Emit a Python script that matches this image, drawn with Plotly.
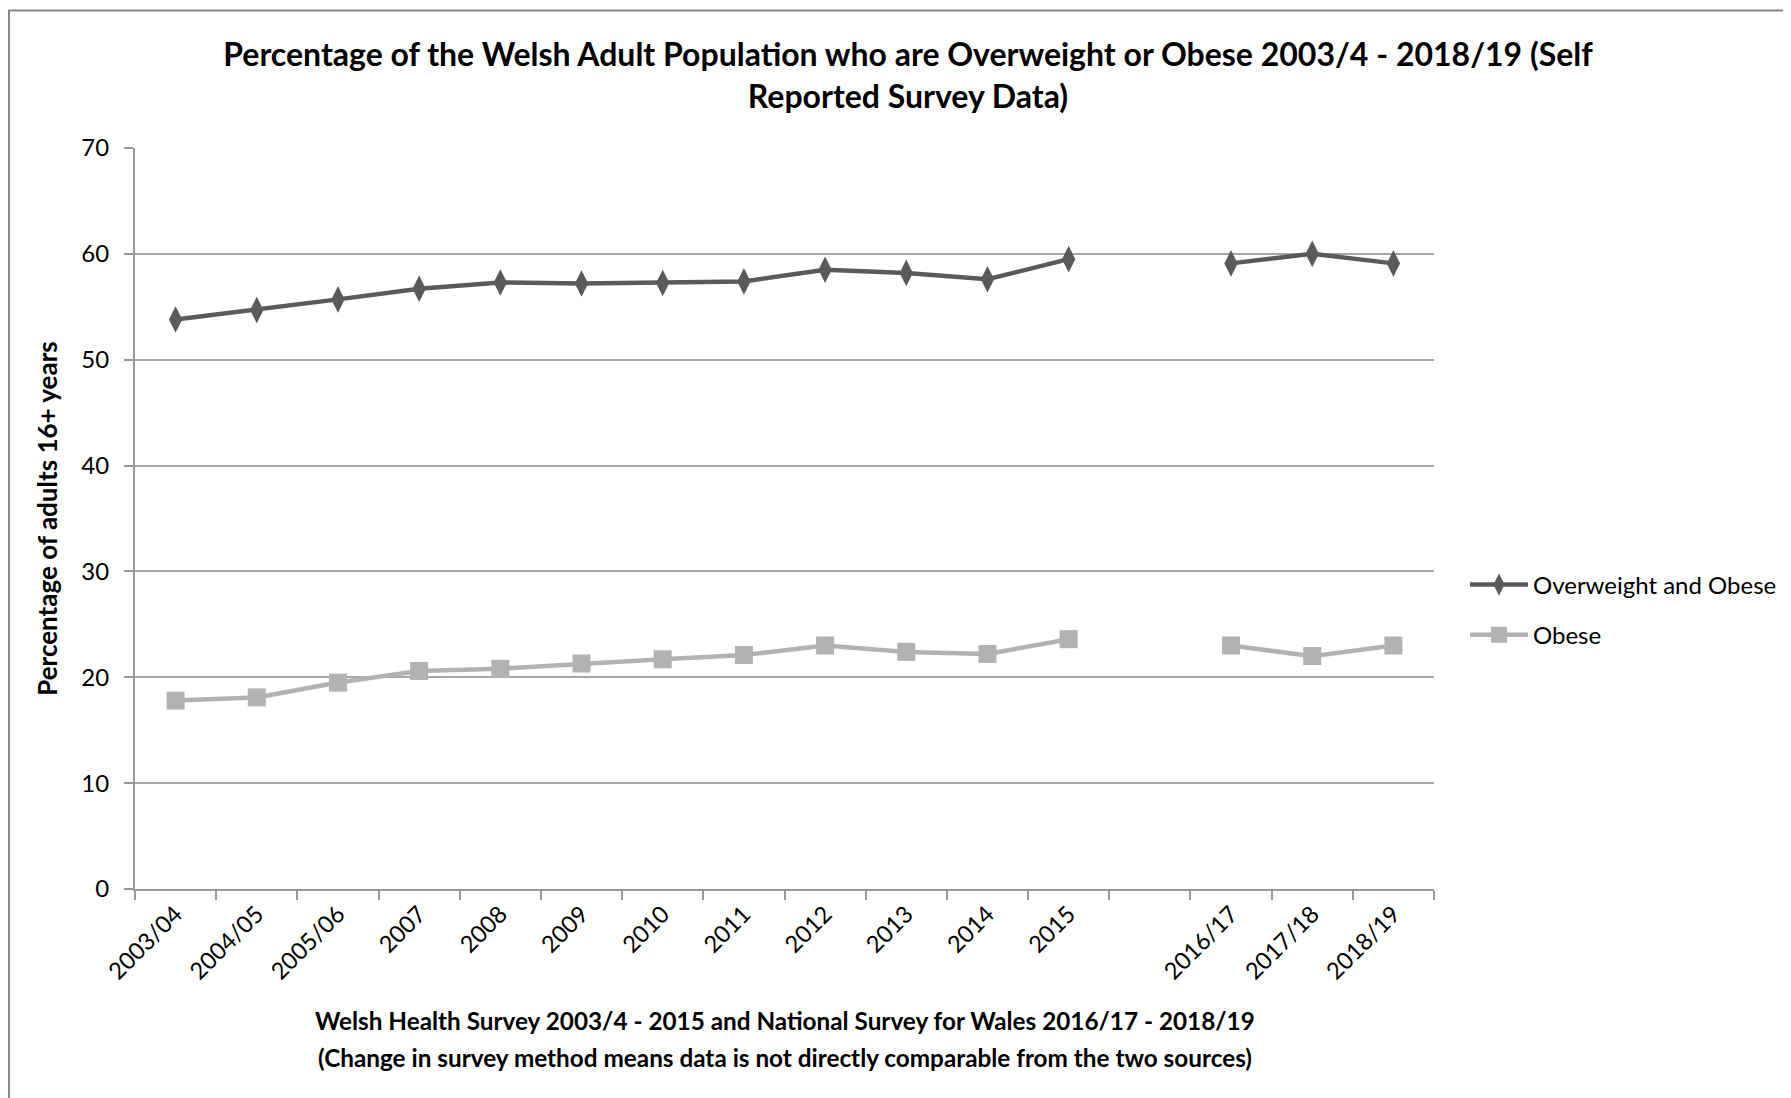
import plotly.graph_objects as go

categories = ["2003/04", "2004/05", "2005/06", "2007", "2008", "2009", "2010", "2011",
              "2012", "2013", "2014", "2015", " ", "2016/17", "2017/18", "2018/19"]
overweight_obese = [53.8, 54.7, 55.7, 56.7, 57.3, 57.2, 57.25, 57.4, 58.5, 58.2, 57.6, 59.5,
                    None, 59.1, 60.0, 59.1]
obese = [17.8, 18.1, 19.5, 20.6, 20.8, 21.3, 21.7, 22.1, 23.0, 22.4, 22.2, 23.6,
         None, 23.0, 22.0, 23.0]
y_ticks = [0, 10, 20, 30, 40, 50, 60, 70]
x_title_lines = [
    "Welsh Health Survey 2003/4 - 2015 and National Survey for Wales 2016/17 - 2018/19",
    "(Change in survey method means data is not directly comparable from the two sources)",
]

OFF = 8  # browser body margin
W, H = 1791, 1098
# target page pixel positions of plot area
PL, PR, PT, PB = 135, 1434, 148, 889
L, R, T, B = PL - OFF, PR - OFF, PT - OFF, PB - OFF
pw, ph = R - L, B - T

FONT = "Lato"
DARK = "#5a5a5a"
LIGHT = "#b2b2b2"

fig = go.Figure()
fig.add_trace(go.Scatter(
    x=categories, y=overweight_obese, name="Overweight and Obese",
    mode="lines+markers", connectgaps=False, legendgroup="a",
    line=dict(color=DARK, width=4.5),
    marker=dict(symbol="diamond-tall", size=19, color=DARK),
))
fig.add_trace(go.Scatter(
    x=categories, y=obese, name="Obese",
    mode="lines+markers", connectgaps=False, legendgroup="b",
    line=dict(color=LIGHT, width=4.5),
    marker=dict(symbol="square", size=18, color=LIGHT),
))

fig.update_layout(
    width=W, height=H,
    margin=dict(l=L, r=W - R, t=T, b=H - B, pad=0),
    paper_bgcolor="white", plot_bgcolor="white",
    font=dict(family=FONT, color="black", size=22),
    title=dict(
        text="<b>Percentage of the Welsh Adult Population who are Overweight or Obese 2003/4 - 2018/19 (Self<br>Reported Survey Data)</b>",
        x=(908 - OFF) / W, xanchor="center", y=1 - (66 - OFF) / H, yanchor="middle",
        font=dict(family=FONT, size=32, color="black"),
    ),
    xaxis=dict(
        type="category", categoryorder="array", categoryarray=categories,
        range=[-0.5, len(categories) - 0.5],
        tickson="boundaries", ticks="outside", ticklen=9, tickwidth=2, tickcolor="#999999",
        showline=True, linecolor="#999999", linewidth=2,
        showgrid=False, tickangle=-45,
        tickfont=dict(family=FONT, size=23.5, color="black"),
    ),
    yaxis=dict(
        range=[0, 70], tickvals=y_ticks, ticks="outside", ticklen=9, tickwidth=2,
        tickcolor="#999999", showline=True, linecolor="#999999", linewidth=2,
        showgrid=True, gridcolor="#a6a6a6", gridwidth=2, zeroline=False,
        tickfont=dict(family=FONT, size=24, color="black"),
        ticklabelstandoff=10,
        title=dict(text="<b>Percentage of adults 16+ years</b>", standoff=16,
                   font=dict(family=FONT, size=26, color="black")),
    ),
    legend=dict(
        x=(1470 - OFF - 5 - L) / pw, xanchor="left", y=(PB - 610) / ph, yanchor="middle",
        font=dict(family=FONT, size=24, color="black"),
        itemwidth=58, tracegroupgap=16, bgcolor="rgba(0,0,0,0)",
    ),
    showlegend=True,
)

for line_text, ypix in zip(x_title_lines, [1020, 1057]):
    fig.add_annotation(
        text="<b>" + line_text + "</b>",
        xref="paper", yref="paper", x=0.5, y=(PB - ypix) / ph, xanchor="center", yanchor="middle",
        showarrow=False, font=dict(family=FONT, size=24.3, color="black"),
    )

fig.add_shape(type="rect", xref="paper", yref="paper",
              x0=(9 - PL) / pw, x1=(W + 40 - PL) / pw, y0=(PB - H - 40) / ph, y1=(PB - 10.5) / ph,
              line=dict(color="#888888", width=2), layer="below")

fig.write_html("out.html")
